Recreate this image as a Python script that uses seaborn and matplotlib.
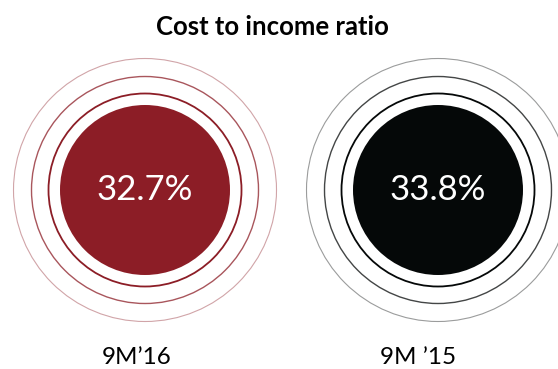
import matplotlib
matplotlib.use("Agg")
import matplotlib.pyplot as plt
from matplotlib.patches import Circle
import seaborn as sns
import pandas as pd

# data
categories = ["9M’16", "9M ’15"]
values = [32.7, 33.8]
disk_colors = ["#8C1D26", "#050808"]
ring_colors = ["#8C1D26", "#050808"]
title = "Cost to income ratio"

sns.set_theme(style="white")
plt.rcParams['font.family'] = ['Lato', 'DejaVu Sans']

W, H, DPI = 558, 369, 100
fig = plt.figure(figsize=(W / DPI, H / DPI), dpi=DPI)
ax = fig.add_axes([0, 0, 1, 1])
ax.set_xlim(0, W)
ax.set_ylim(H, 0)
ax.set_axis_off()

cx = [145, 438]
cy = 190
disk_r = 85
df = pd.DataFrame({"x": cx, "y": [cy, cy], "cat": categories, "val": values})

# disks via seaborn scatter (marker size in points^2)
s = (2 * disk_r * 72 / DPI) ** 2
sns.scatterplot(data=df, x="x", y="y", hue="cat", palette=disk_colors,
                s=s, linewidth=0, legend=False, ax=ax, zorder=3)

rings = [(96.5, 1.3, 1.0), (113.5, 1.0, 0.75), (131.5, 0.8, 0.4)]
for i in range(len(categories)):
    for r, lw, a in rings:
        ax.add_patch(Circle((cx[i], cy), r, fill=False, edgecolor=ring_colors[i],
                            linewidth=lw, alpha=a, zorder=2))
    ax.text(cx[i], cy, f"{values[i]:.1f}%", color="white", fontsize=25,
            ha="center", va="center", zorder=4)
    ax.text(cx[i] - 8 if i == 0 else cx[i] - 20, 358, categories[i], color="black", fontsize=17.5,
            ha="center", va="center")

ax.text(272, 27, title, fontsize=18.5, fontweight="bold", color="black",
        ha="center", va="center")

fig.savefig("out.png", dpi=DPI)
